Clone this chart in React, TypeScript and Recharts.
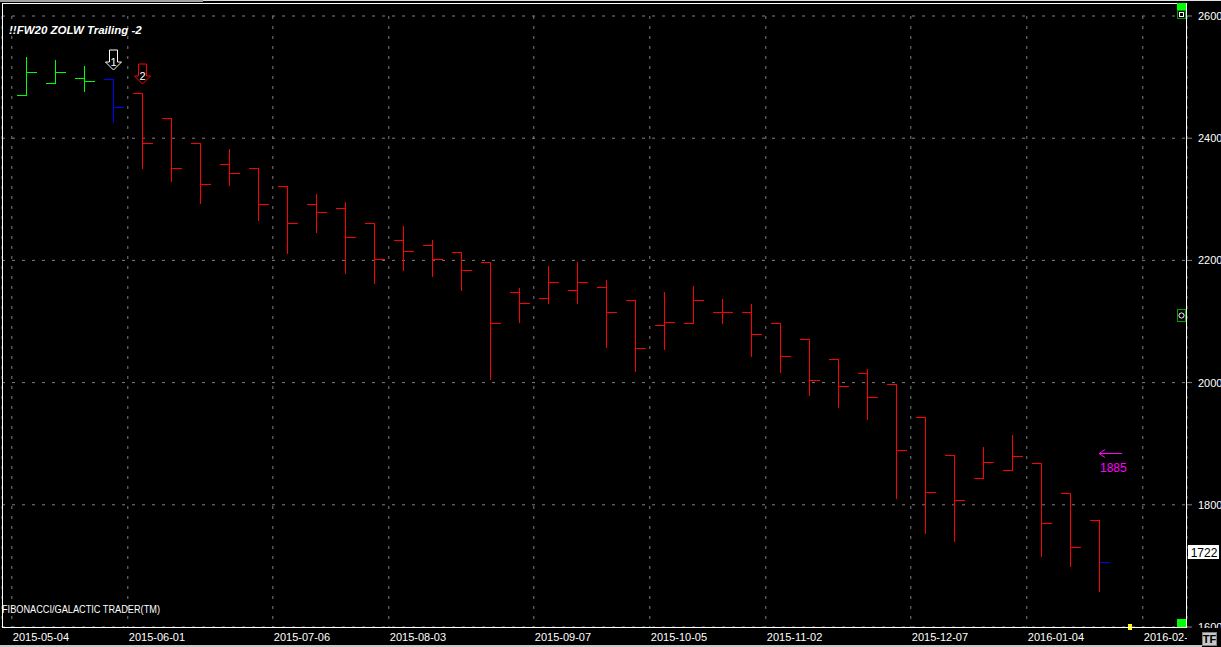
import React from 'react';
import { ComposedChart, Bar, XAxis, YAxis, CartesianGrid, ReferenceDot } from 'recharts';

// ---- data (weekly bars, week 0 = 2015-05-04) ----
const weeks = [0, 1, 2, 3, 4, 5, 6, 7, 8, 9, 10, 11, 12, 13, 14, 15, 16, 17, 18, 19, 20, 21, 22, 23, 24, 25, 26, 27, 28, 29, 30, 31, 32, 33, 34, 35, 36, 37];
const opens = [2471, 2490, 2498, 2497, 2474, 2433, 2392, 2357, 2351, 2321, 2292, 2285, 2262, 2233, 2225, 2213, 2198, 2148, 2139, 2151, 2157, 2136, 2095, 2098, 2116, 2116, 2098, 2072, 2038, 2016, 1997, 1943, 1882, 1844, 1857, 1869, 1820, 1775];
const highs = [2533, 2528, 2518, 2497, 2474, 2433, 2392, 2382, 2351, 2321, 2309, 2296, 2262, 2256, 2234, 2213, 2198, 2155, 2191, 2198, 2168, 2136, 2148, 2158, 2137, 2128, 2098, 2072, 2038, 2022, 1997, 1943, 1882, 1894, 1915, 1869, 1820, 1775];
const lows = [2470, 2490, 2475, 2425, 2349, 2328, 2293, 2322, 2265, 2211, 2245, 2178, 2162, 2183, 2173, 2150, 2005, 2098, 2129, 2129, 2057, 2017, 2053, 2098, 2096, 2042, 2016, 1978, 1958, 1938, 1809, 1752, 1739, 1844, 1857, 1714, 1698, 1657];
const closes = [2509, 2509, 2494, 2451, 2392, 2351, 2325, 2343, 2293, 2262, 2279, 2239, 2203, 2215, 2202, 2184, 2097, 2131, 2164, 2164, 2115, 2056, 2100, 2136, 2116, 2080, 2044, 2005, 1995, 1977, 1890, 1821, 1808, 1870, 1880, 1770, 1731, 1707];
// trend state of each bar: L = long, N = neutral, S = short
const trendStates = ['L', 'L', 'L', 'N', 'S', 'S', 'S', 'S', 'S', 'S', 'S', 'S', 'S', 'S', 'S', 'S', 'S', 'S', 'S', 'S', 'S', 'S', 'S', 'S', 'S', 'S', 'S', 'S', 'S', 'S', 'S', 'S', 'S', 'S', 'S', 'S', 'S', 'S'];
const currentWeek = 37;

const tickWeeks = [0, 4, 9, 13, 18, 22, 26, 31, 35, 39];
const tickLabels = ['2015-05-04', '2015-06-01', '2015-07-06', '2015-08-03', '2015-09-07', '2015-10-05', '2015-11-02', '2015-12-07', '2016-01-04', '2016-02-01'];
const priceTicks = [1600, 1800, 2000, 2200, 2400, 2600];

const signalWeeks = [3, 4];
const signalLabels = ['1', '2'];
const targetWeek = 37;
const targetPrice = 1885;
const lastPrice = 1722;
const markerWeek = 38;

const X_MIN = -0.838;
const X_MAX = 40.024;

const data = weeks.map((w, i) => ({
  week: w,
  open: opens[i],
  high: highs[i],
  low: lows[i],
  close: closes[i],
  state: trendStates[i],
}));

const stateColor: Record<string, string> = { L: '#00ff00', N: '#0000ff', S: '#ff0000' };
const FONT = '"Liberation Sans", Arial, sans-serif';

const OHLCShape = (props: any) => {
  const { x, y, width, height, payload } = props;
  if (!payload || x == null) return null;
  const center = Math.floor(x + width / 2) + 0.5;
  const top = Math.min(y, y + height);
  const bottom = Math.max(y, y + height);
  const range = payload.high - payload.low || 1;
  const toY = (v: number) => Math.round(top + ((payload.high - v) / range) * (bottom - top)) + 0.5;
  const color = stateColor[payload.state];
  const closeColor = payload.week === currentWeek ? '#0000ff' : color;
  const oy = toY(payload.open);
  const cy = toY(payload.close);
  return (
    <g shapeRendering="crispEdges">
      <line x1={center} x2={center} y1={Math.round(top)} y2={Math.round(bottom)} stroke={color} strokeWidth={1} />
      <line x1={center - 10} x2={center} y1={oy} y2={oy} stroke={color} strokeWidth={1} />
      <line x1={center} x2={center + 10} y1={cy} y2={cy} stroke={closeColor} strokeWidth={1} />
    </g>
  );
};

const makeSignalArrow = (label: string, outline: string) => (props: any) => {
  const { cx, cy } = props;
  const c = Math.round(cx) + 0.5;
  const tip = Math.round(cy) - 9;
  const d = `M ${c} ${tip} L ${c - 8} ${tip - 8} L ${c - 4} ${tip - 8} L ${c - 4} ${tip - 20} L ${c + 4} ${tip - 20} L ${c + 4} ${tip - 8} L ${c + 8} ${tip - 8} Z`;
  return (
    <g>
      <path d={d} fill="#000" stroke={outline} strokeWidth={1} />
      <text x={c} y={tip - 4} textAnchor="middle" fill="#fff" fontFamily={FONT} fontSize={11}>{label}</text>
    </g>
  );
};

const TargetArrow = (props: any) => {
  const { cx, cy } = props;
  const c = Math.round(cx);
  const y = Math.round(cy) + 0.5;
  return (
    <g>
      <line x1={c} x2={c + 23} y1={y} y2={y} stroke="#ff00ff" strokeWidth={1} />
      <line x1={c} x2={c + 6} y1={y} y2={y - 4} stroke="#ff00ff" strokeWidth={1} />
      <line x1={c} x2={c + 6} y1={y} y2={y + 4} stroke="#ff00ff" strokeWidth={1} />
      <text x={c + 1} y={y + 18} fill="#ff00ff" fontFamily={FONT} fontSize={12}>{String(targetPrice)}</text>
    </g>
  );
};

const LastPriceTag = (props: any) => {
  const { cx, cy } = props;
  const x = Math.round(cx) + 1;
  const y = Math.round(cy);
  return (
    <g>
      <rect x={x} y={y - 7} width={31} height={14} fill="#fff" />
      <text x={x + 16} y={y + 5} textAnchor="middle" fill="#000" fontFamily={FONT} fontSize={12}>{String(lastPrice)}</text>
    </g>
  );
};

const YellowMarker = (props: any) => {
  const { cx, cy } = props;
  return <rect x={Math.round(cx)} y={Math.round(cy) - 3} width={4} height={6} fill="#ffff00" />;
};

const DateTick = (props: any) => {
  const { x, y, payload } = props;
  const idx = tickWeeks.indexOf(Math.round(payload.value + 0.5));
  const label = idx >= 0 ? tickLabels[idx] : '';
  return (
    <text x={x + 1} y={y + 14} textAnchor="start" fill="#fff" fontFamily={FONT} fontSize={11}>{label}</text>
  );
};

export default function App() {
  return (
    <div style={{ position: 'absolute', left: 0, top: 0, width: 1221, height: 647, background: '#000', overflow: 'hidden' }}>
      <ComposedChart
        width={1221}
        height={647}
        data={data}
        margin={{ top: 16, right: 0, bottom: 0, left: 2 }}
      >
        <CartesianGrid stroke="#808080" strokeDasharray="3 7" />
        <XAxis
          dataKey="week"
          type="number"
          domain={[X_MIN, X_MAX]}
          allowDataOverflow
          ticks={tickWeeks.map((w) => w - 0.5)}
          interval={0}
          height={20}
          tickSize={0}
          tickMargin={0}
          tickLine={false}
          axisLine={false}
          tick={<DateTick />}
        />
        <YAxis
          orientation="right"
          type="number"
          domain={[1600, 2600]}
          allowDataOverflow
          ticks={priceTicks}
          interval={0}
          width={34}
          tickSize={5}
          tickMargin={6}
          axisLine={false}
          tickLine={{ stroke: '#808080' }}
          tick={{ fill: '#fff', fontSize: 11, fontFamily: FONT }}
        />
        <Bar
          dataKey={(d: any) => [d.low, d.high]}
          isAnimationActive={false}
          barSize={1}
          shape={<OHLCShape />}
        />
        {signalWeeks.map((w, i) => (
          <ReferenceDot
            key={'sig' + i}
            x={w}
            y={highs[weeks.indexOf(w)]}
            ifOverflow="visible"
            shape={makeSignalArrow(signalLabels[i], i === 0 ? '#ffffff' : '#ff0000')}
          />
        ))}
        <ReferenceDot x={targetWeek} y={targetPrice} ifOverflow="visible" shape={<TargetArrow />} />
        <ReferenceDot x={X_MAX} y={lastPrice} ifOverflow="visible" shape={<LastPriceTag />} />
        <ReferenceDot x={markerWeek} y={1600} ifOverflow="visible" shape={<YellowMarker />} />
      </ComposedChart>

      <svg width={1221} height={647} style={{ position: 'absolute', left: 0, top: 0, pointerEvents: 'none' }}>
        {/* top window strip */}
        <rect x={0} y={0} width={203} height={2} fill="#a0a0a0" />
        <rect x={203} y={0} width={1018} height={1} fill="#e0e0e0" />
        {/* plot frame */}
        <rect x={2.5} y={3.5} width={1184} height={624} fill="none" stroke="#fff" strokeWidth={1} shapeRendering="crispEdges" />
        {/* right side widgets */}
        <rect x={1177} y={3} width={9} height={7} fill="#00ff00" />
        <rect x={1177.5} y={10.5} width={8} height={8} fill="#000" stroke="#00a000" />
        <rect x={1179.5} y={12.5} width={4} height={4} fill="none" stroke="#fff" />
        <rect x={1177.5} y={309.5} width={8} height={12} fill="#000" stroke="#00a000" />
        <circle cx={1181.5} cy={315.5} r={2.6} fill="none" stroke="#fff" />
        <rect x={1177} y={619} width={9} height={8} fill="#00ff00" />
        {/* bottom right corner */}
        <rect x={1187} y={628} width={34} height={19} fill="#000" />
        <rect x={1202.5} y={632.5} width={14} height={13} fill="#c8c8c8" stroke="#808080" />
        <text x={1209.5} y={643} textAnchor="middle" fill="#000" fontFamily={FONT} fontWeight="bold" fontSize={11}>TF</text>
        <rect x={0} y={645} width={1202} height={2} fill="#c8c8c8" />
        {/* texts */}
        <text x={9} y={34} fill="#fff" fontFamily={FONT} fontWeight="bold" fontStyle="italic" fontSize={11.5}>!!FW20 ZOLW Trailing -2</text>
        <text x={2} y={613} fill="#fff" fontFamily={FONT} fontSize={10} textLength={158} lengthAdjust="spacingAndGlyphs">FIBONACCI/GALACTIC TRADER(TM)</text>
      </svg>
    </div>
  );
}
